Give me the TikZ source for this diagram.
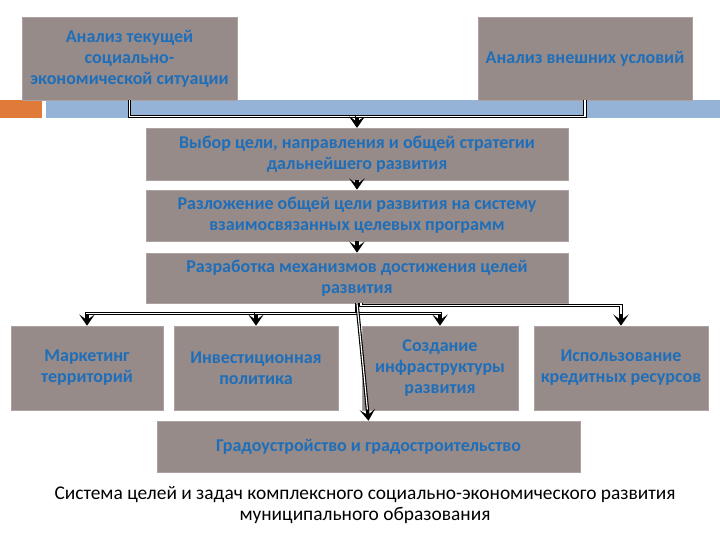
\documentclass[tikz,border=0pt]{standalone}
\usepackage{fontspec}
\setmainfont{Carlito}
\usetikzlibrary{arrows.meta, positioning, calc}

\definecolor{boxgray}{RGB}{151,139,137}
\definecolor{textblue}{RGB}{30,110,185}
\definecolor{stripblue}{RGB}{149,179,215}
\definecolor{stripor}{RGB}{224,122,56}

\begin{document}
\begin{tikzpicture}[
    box/.style={rectangle, draw=boxgray!80, fill=boxgray, align=center, text=textblue, inner sep=2pt, font=\fontsize{12.8}{15}\selectfont\bfseries},
    plain/.style={draw=black, line width=2.4pt, postaction={draw=white, line width=0.8pt}},
    link/.style={draw=black, line width=2.4pt, -{Stealth[length=8pt, width=11pt, inset=4pt]}, postaction={draw=white, line width=0.8pt, -, shorten >=8pt}},
    shortlink/.style={draw=black, line width=2.4pt, -{Stealth[length=8pt, width=11pt, inset=4pt]}}
  ]
    \useasboundingbox (0,0) rectangle (18,13.5);
    % strips under the top row
    \fill[stripor] (0,11) rectangle (1.05,10.55);
    \fill[stripblue] (1.15,11) rectangle (18,10.55);

    \node[box, minimum width=5.375cm, minimum height=2.075cm] (current) at (3.2375,12.0375) {Анализ текущей\\ социально-\\ экономической ситуации};
    \node[box, minimum width=5.35cm, minimum height=2.075cm] (external) at (14.625,12.0375) {Анализ внешних условий};
    \node[box, minimum width=10.55cm, minimum height=1.3cm] (goal) at (8.925,9.65) {Выбор цели, направления и общей стратегии\\ дальнейшего развития};
    \node[box, minimum width=10.55cm, minimum height=1.275cm] (decomp) at (8.925,8.1125) {Разложение общей цели развития на систему\\ взаимосвязанных целевых программ};
    \node[box, minimum width=10.55cm, minimum height=1.25cm] (mech) at (8.925,6.55) {Разработка механизмов достижения целей\\ развития};

    \node[box, minimum width=3.8cm, minimum height=2.1cm] (market) at (2.175,4.3) {Маркетинг\\ территорий};
    \node[box, minimum width=4.1cm, minimum height=2.1cm] (invest) at (6.4,4.3) {Инвестиционная\\ политика};
    \node[box, minimum width=3.9cm, minimum height=2.1cm] (infra) at (11,4.3) {Создание\\ инфраструктуры\\ развития};
    \node[box, minimum width=4.35cm, minimum height=2.1cm] (credit) at (15.525,4.3) {Использование\\ кредитных ресурсов};
    \node[box, minimum width=10.575cm, minimum height=1.275cm] (urban) at (9.2125,2.3375) {Градоустройство и градостроительство};

    \node[align=center, font=\fontsize{13.8}{15.5}\selectfont] (caption) at (9.125,0.875) {Система целей и задач комплексного социально-экономического развития\\ муниципального образования};

    % connectors
    \draw[link] (current.south) -- ++(0,-0.4) -| (goal.north);
    \draw[link] (external.south) -- ++(0,-0.4) -| (goal.north);
    \draw[shortlink] (goal.south) -- (decomp.north);
    \draw[shortlink] (decomp.south) -- (mech.north);
    \coordinate (split) at ($(mech.south)+(0,-0.25)$);
    \draw[plain] (mech.south) -- (split);
    \draw[link] (split) -| (market.north);
    \draw[link] (split) -| (invest.north);
    \draw[link] (split) -| (infra.north);
    \draw[link] ([xshift=0.1cm]mech.south) -- ++(0,-0.05) -| (credit.north);
    \draw[link] (mech.south) -- (urban.north);
  \end{tikzpicture}
\end{document}
